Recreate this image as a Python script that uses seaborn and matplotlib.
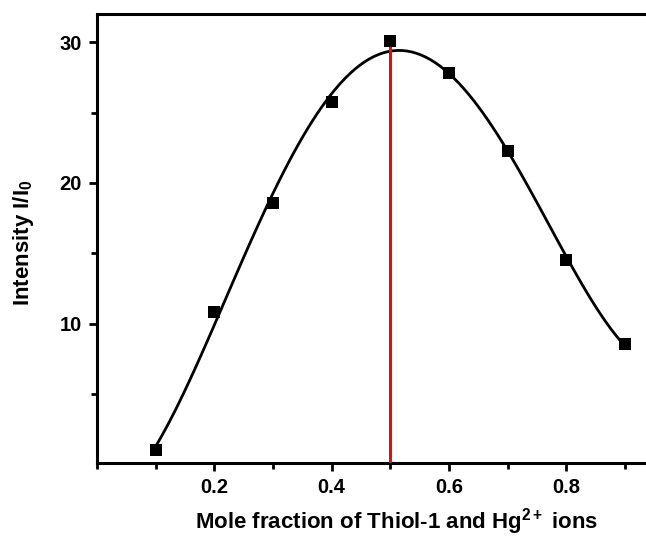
import matplotlib
matplotlib.use("Agg")
import matplotlib.pyplot as plt
import seaborn as sns
import pandas as pd
from matplotlib.ticker import MultipleLocator

mole_fraction = [0.1, 0.2, 0.3, 0.4, 0.5, 0.6, 0.7, 0.8, 0.9]
intensity = [1.0, 10.8, 18.6, 25.76, 30.1, 27.78, 22.3, 14.5, 8.56]
x_ticks = [0.2, 0.4, 0.6, 0.8]
y_ticks = [10, 20, 30]
x_label = "Mole fraction of Thiol-1 and Hg$^{2+}$ ions"
y_label = "Intensity I/I$_{0}$"
job_x = 0.5

df = pd.DataFrame({"x": mole_fraction, "y": intensity})

sns.set_style("ticks")
plt.rcParams["font.family"] = ["Liberation Sans", "DejaVu Sans"]
plt.rcParams["font.weight"] = "bold"
plt.rcParams["mathtext.fontset"] = "custom"
plt.rcParams["mathtext.rm"] = "Liberation Sans:bold"
plt.rcParams["mathtext.it"] = "Liberation Sans:bold"
plt.rcParams["mathtext.bf"] = "Liberation Sans:bold"
for k in ["text.color", "axes.labelcolor", "xtick.color", "ytick.color", "axes.edgecolor"]:
    plt.rcParams[k] = "black"

fig = plt.figure(figsize=(6.46, 5.38), dpi=100)
ax = fig.add_axes([97/646, 1-463/538, (683.5-97)/646, (463-14)/538])

sns.regplot(data=df, x="x", y="y", order=4, ci=None, scatter=False, truncate=True,
            line_kws=dict(color="black", lw=2.0), ax=ax)
ax.vlines(job_x, 0.1, intensity[mole_fraction.index(job_x)], color="#e01010", lw=2.2, zorder=3)
sns.scatterplot(data=df, x="x", y="y", marker="s", s=70, color="black",
                edgecolor="black", linewidth=0, zorder=4, ax=ax)

ax.set_xlim(0.0, 1.0)
ax.set_ylim(0.1, 32)
ax.set_xticks(x_ticks)
ax.set_yticks(y_ticks)
ax.xaxis.set_minor_locator(MultipleLocator(0.1))
ax.yaxis.set_minor_locator(MultipleLocator(5))
ax.tick_params(which="major", length=6, width=2, labelsize=14.5, pad=5)
ax.tick_params(which="minor", length=4, width=2)
for lab in ax.get_xticklabels() + ax.get_yticklabels():
    lab.set_fontweight("bold")
for sp in ax.spines.values():
    sp.set_linewidth(2.2)
    sp.set_visible(True)

ax.set_xlabel(x_label, fontsize=16, fontweight="bold")
ax.set_ylabel(y_label, fontsize=16, fontweight="bold")
ax.xaxis.set_label_coords((397-97)/(683.5-97), -0.097)
ax.yaxis.set_label_coords(-0.104, 0.49)

fig.savefig("out.png", dpi=100)
